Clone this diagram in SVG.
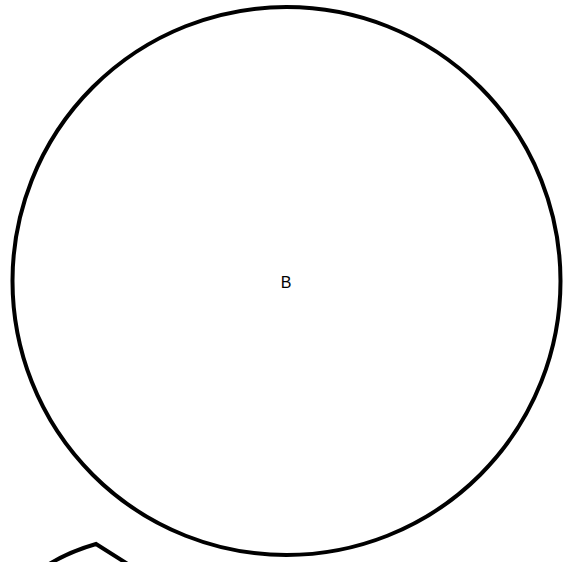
<svg xmlns="http://www.w3.org/2000/svg" width="563" height="562" viewBox="0 0 563 562">
<style>
.n{fill:none;stroke:#000;stroke-width:4}
.t{font-family:"Liberation Sans",Arial,sans-serif;font-size:16px;fill:#000}
</style>
<rect width="563" height="562" fill="#fff"/>
<g id="B">
<circle class="n" cx="286.5" cy="281" r="274"/>
<text class="t" x="286" y="288" text-anchor="middle">B</text>
</g>
<g id="partial">
<path class="n" d="M 46 566 Q 68 552 96 544 L 134 568" stroke-linejoin="miter"/>
</g>
<g id="connectors"></g>
</svg>
